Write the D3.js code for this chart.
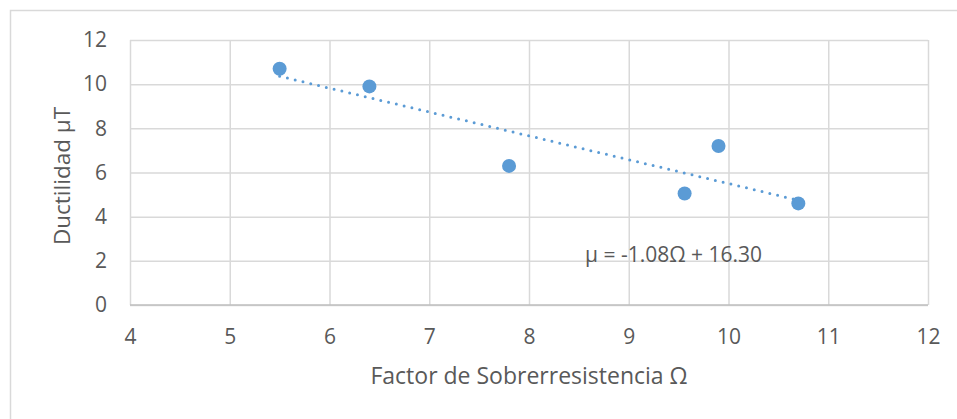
<!DOCTYPE html>
<html>
<head>
<meta charset="utf-8">
<script src="https://cdn.jsdelivr.net/npm/d3@7"></script>
<style>
  body { margin: 0; background: #fff; }
  svg { display: block; font-family: "Open Sans", sans-serif; }
</style>
</head>
<body>
<svg id="chart" width="957" height="419"></svg>
<script>
// data
var overstrength = [5.5, 6.4, 7.8, 9.56, 9.9, 10.7];
var ductility = [10.7, 9.9, 6.3, 5.05, 7.2, 4.6];
var trendSlope = -1.08;
var trendIntercept = 16.30;
var xTicks = [4, 5, 6, 7, 8, 9, 10, 11, 12];
var yTicks = [0, 2, 4, 6, 8, 10, 12];

var svg = d3.select("#chart");
var W = 957, H = 419;
var margin = {top: 40, right: 29, bottom: 114, left: 130};
var textColor = "#595959";
var gridColor = "#d9d9d9";
var blue = "#5b9bd5";

// outer chart border (runs off the right/bottom edge like the screenshot)
svg.append("rect")
    .attr("x", 10.5).attr("y", 10.5)
    .attr("width", W).attr("height", H)
    .attr("fill", "none")
    .attr("stroke", gridColor)
    .attr("stroke-width", 1.5);

var x = d3.scaleLinear().domain([4, 12]).range([margin.left, W - margin.right]);
var y = d3.scaleLinear().domain([0, 12]).range([H - margin.bottom, margin.top]);

// gridlines
var xGrid = d3.axisBottom(x).tickValues(xTicks).tickSize(-(y(0) - y(12))).tickFormat("");
var yGrid = d3.axisLeft(y).tickValues(yTicks).tickSize(-(x(12) - x(4))).tickFormat("");

svg.append("g")
    .attr("transform", "translate(0," + y(0) + ")")
    .call(xGrid)
    .call(function (g) { g.select(".domain").remove(); })
    .selectAll("line").attr("stroke", gridColor).attr("stroke-width", 1.5);

svg.append("g")
    .attr("transform", "translate(" + x(4) + ",0)")
    .call(yGrid)
    .call(function (g) { g.select(".domain").remove(); })
    .selectAll("line").attr("stroke", gridColor).attr("stroke-width", 1.5);

// bottom axis line, a bit darker
svg.append("line")
    .attr("x1", x(4)).attr("x2", x(12))
    .attr("y1", y(0)).attr("y2", y(0))
    .attr("stroke", "#bfbfbf").attr("stroke-width", 1.5);

// tick labels
var xAxis = d3.axisBottom(x).tickValues(xTicks).tickSize(0).tickPadding(24);
svg.append("g")
    .attr("transform", "translate(0," + y(0) + ")")
    .call(xAxis)
    .call(function (g) { g.select(".domain").remove(); })
    .selectAll("text")
    .attr("fill", textColor)
    .style("font-size", "21px")
    .style("font-family", "'Open Sans', sans-serif");

var yAxis = d3.axisLeft(y).tickValues(yTicks).tickSize(0).tickPadding(23);
svg.append("g")
    .attr("transform", "translate(" + x(4) + ",0)")
    .call(yAxis)
    .call(function (g) { g.select(".domain").remove(); })
    .selectAll("text")
    .attr("fill", textColor)
    .style("font-size", "21px")
    .style("font-family", "'Open Sans', sans-serif");

// linear trendline, dotted
var xMin = d3.min(overstrength), xMax = d3.max(overstrength);
var trend = [xMin, xMax].map(function (v) { return [v, trendSlope * v + trendIntercept]; });
svg.append("path")
    .datum(trend)
    .attr("d", d3.line().x(function (d) { return x(d[0]); }).y(function (d) { return y(d[1]); }))
    .attr("fill", "none")
    .attr("stroke", blue)
    .attr("stroke-width", 3)
    .attr("stroke-linecap", "round")
    .attr("stroke-dasharray", "0,8");

// points
svg.selectAll("circle.pt")
    .data(overstrength.map(function (v, i) { return [v, ductility[i]]; }))
    .enter()
    .append("circle")
    .attr("class", "pt")
    .attr("cx", function (d) { return x(d[0]); })
    .attr("cy", function (d) { return y(d[1]); })
    .attr("r", 7)
    .attr("fill", blue);

// equation label
svg.append("text")
    .attr("x", 585)
    .attr("y", 262)
    .attr("fill", textColor)
    .style("font-size", "21px")
    .text("μ = " + trendSlope.toFixed(2) + "Ω + " + trendIntercept.toFixed(2));

// axis titles
svg.append("text")
    .attr("x", 529)
    .attr("y", 384)
    .attr("text-anchor", "middle")
    .attr("fill", textColor)
    .style("font-size", "23px")
    .text("Factor de Sobrerresistencia Ω");

svg.append("text")
    .attr("transform", "translate(70,176) rotate(-90)")
    .attr("text-anchor", "middle")
    .attr("fill", textColor)
    .style("font-size", "22.5px")
    .text("Ductilidad μT");
</script>
</body>
</html>
